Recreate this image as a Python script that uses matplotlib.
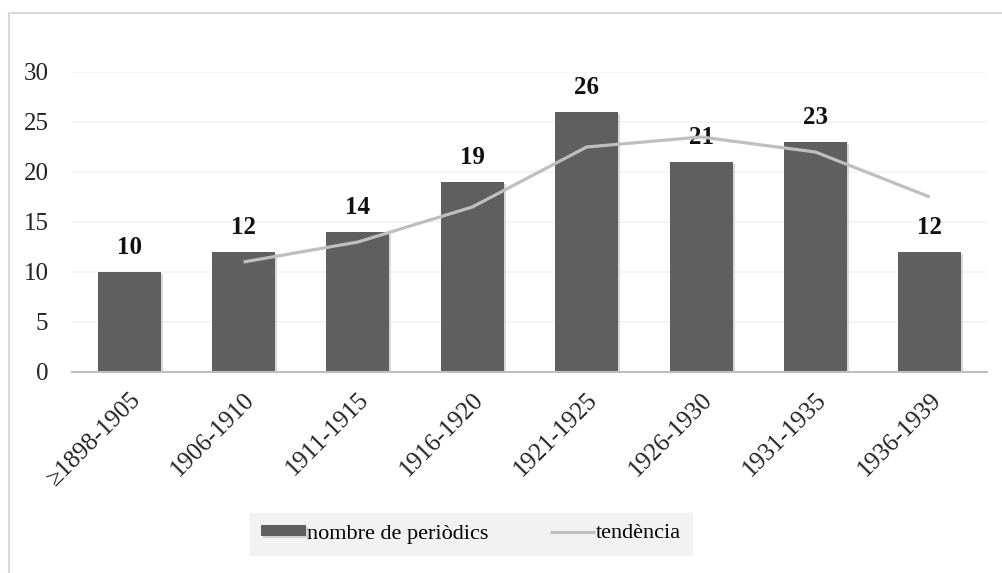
import matplotlib
matplotlib.use("Agg")
import matplotlib.pyplot as plt
import matplotlib.patheffects as pe
from matplotlib.lines import Line2D

# values
periods = ["≥1898-1905", "1906-1910", "1911-1915", "1916-1920",
           "1921-1925", "1926-1930", "1931-1935", "1936-1939"]
counts = [10, 12, 14, 19, 26, 21, 23, 12]
# trend line (starts at the second period)
trend_x = [1, 2, 3, 4, 5, 6, 7]
trend = [11, 13, 16.5, 22.5, 23.5, 22, 17.5]
yticks = [0, 5, 10, 15, 20, 25, 30]

plt.rcParams["font.family"] = ["Liberation Serif", "DejaVu Serif"]

W, H = 1003, 573
fig = plt.figure(figsize=(W / 100, H / 100), dpi=100)
ax = fig.add_axes([72 / W, 1 - 372 / H, 915 / W, 300 / H])

x = list(range(len(periods)))
bars = ax.bar(x, counts, width=0.55, color="#5f5f5f", zorder=3)
for b in bars:
    b.set_path_effects([pe.SimplePatchShadow(offset=(1.5, -1.5),
                                             shadow_rgbFace="#a0a0a0", alpha=0.4),
                        pe.Normal()])
line, = ax.plot(trend_x, trend, color="#bfbfbf", lw=2.3, zorder=4,
                solid_capstyle="butt")

for xi, v in zip(x, counts):
    ax.annotate(str(v), (xi, v), xytext=(0, 9), textcoords="offset points",
                ha="center", va="bottom", fontsize=18, fontweight="bold",
                color="#111111")

ax.set_xlim(-0.5, len(periods) - 0.5)
ax.set_ylim(0, 30)
ax.set_yticks(yticks)
ax.set_yticklabels([str(t) for t in yticks], fontsize=18, color="#222222")
ax.set_xticks(x)
ax.set_xticklabels(periods, rotation=45, ha="right", va="top",
                   rotation_mode="anchor", fontsize=18, color="#222222")
ax.tick_params(axis="both", length=0)
ax.tick_params(axis="y", pad=17)
ax.tick_params(axis="x", pad=12)
ax.grid(axis="y", color="#f4f4f4", lw=1.2, zorder=0)
for s in ["top", "right", "left"]:
    ax.spines[s].set_visible(False)
ax.spines["bottom"].set_color("#bfbfbf")
ax.spines["bottom"].set_linewidth(1.5)
ax.spines["bottom"].set_zorder(5)

leg = fig.legend([bars[0], line], ["nombre de periòdics", "tendència"],
                 loc="center", bbox_to_anchor=(471 / W, 1 - 534 / H), ncol=2,
                 fontsize=16, frameon=True, fancybox=False,
                 facecolor="#f2f2f2", edgecolor="#f2f2f2",
                 handlelength=2.0, handleheight=0.35, handletextpad=0.05,
                 columnspacing=2.8, borderpad=0.5, borderaxespad=0)
leg.get_frame().set_alpha(1)
leg.get_frame().set_boxstyle("square", pad=0.0)

# outer chart border (only top and left edges visible in the reference)
fig.add_artist(Line2D([9 / W, 9 / W], [0, 1 - 13 / H], transform=fig.transFigure,
                      color="#d9d9d9", lw=1.5))
fig.add_artist(Line2D([9 / W, 1], [1 - 13 / H, 1 - 13 / H], transform=fig.transFigure,
                      color="#d9d9d9", lw=1.5))

fig.savefig("out.png", dpi=100)
